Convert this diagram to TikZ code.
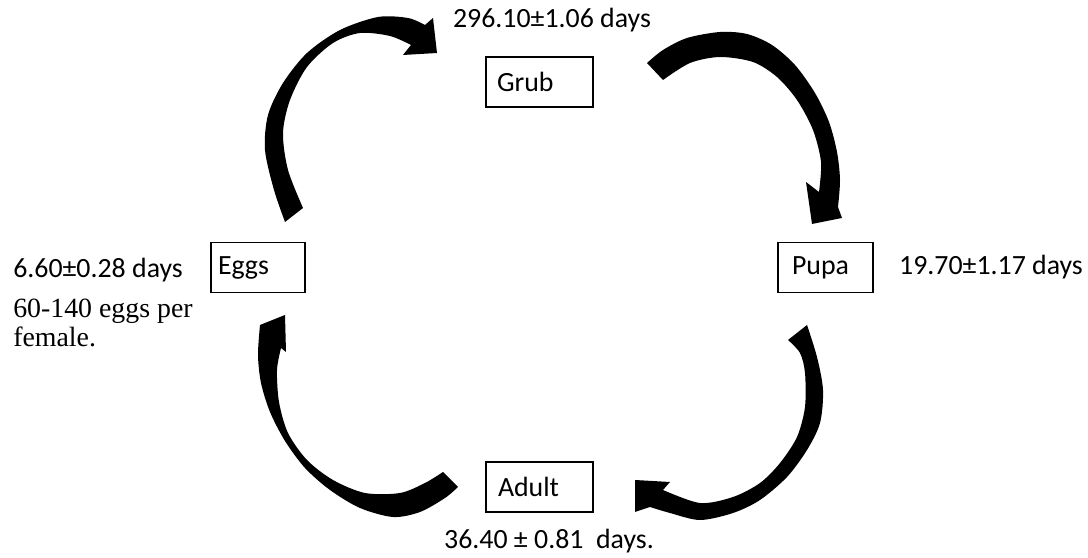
\documentclass[tikz,border=0pt]{standalone}
\usepackage{fontspec}
\setmainfont{Carlito}
\newfontfamily\timesfont{Liberation Serif}
\usepackage{tikz}

\tikzset{
  stage/.style={draw, line width=0.9pt, align=left, minimum height=12.5mm, inner ysep=0pt},
  timing/.style={inner sep=0pt},
  cyclearrow/.style={fill=black}
}

\begin{document}
\begin{tikzpicture}[x=0.25mm, y=-0.25mm, font=\fontsize{19.8}{21.3}\selectfont]
\useasboundingbox (0,0) rectangle (1088,558);

\node[stage, text width=21.25mm, inner xsep=2.75mm] (grub) at (539.5,82) {Grub};
\node[stage, text width=20mm, inner xsep=1.75mm] (eggs) at (258,267.5) {Eggs};
\node[stage, text width=16.75mm, inner xsep=3.5mm] (pupa) at (825.5,267.5) {Pupa};
\node[stage, text width=20.75mm, inner xsep=3mm] (adult) at (539.5,487) {Adult};

\node[timing] (grubdays) at (552,20) {296.10±1.06 days};
\node[timing] (pupadays) at (991,267) {19.70±1.17 days};
\node[timing] (adultdays) at (549,541) {36.40 ± 0.81~ days.};
\node[timing, anchor=base west, align=left] (eggsdays) at (13,347)
  {6.60±0.28 days\\[7.1pt]{\timesfont 60-140 eggs per}\\{\timesfont female.}};

% eggs -> grub
\fill[cyclearrow] plot[smooth] coordinates {(285,222) (274,190) (265,150) (268,115) (283,83) (307,53) (340,30) (378,17) (408,18) (425,25)}
  -- (433,18) -- (437,53) -- (403,55) -- (411,45)
  -- plot[smooth] coordinates {(411,45) (390,36) (360,33) (333,43) (307,67) (290,100) (283,133) (288,170) (303,208)} -- cycle;
% grub -> pupa
\fill[cyclearrow] plot[smooth] coordinates {(647,63) (663,50) (687,38) (720,32) (747,34) (772,45) (795,65) (815,93) (829,122) (837,152) (840,180) (838,207)}
  -- (842,218) -- (812,224) -- (806,182) -- (819,192)
  -- plot[smooth] coordinates {(819,192) (821,162) (813,130) (797,100) (777,77) (753,62) (720,57) (690,63) (663,80)} -- cycle;
% pupa -> adult
\fill[cyclearrow] plot[smooth] coordinates {(807,325) (817,357) (823,390) (820,423) (807,450) (787,477) (760,500) (733,513) (700,520) (670,513) (650,507)}
  -- (635,512) -- (635,480) -- (670,482) -- (663,490)
  -- plot[smooth] coordinates {(663,490) (700,503) (733,497) (760,483) (780,463) (797,437) (805,407) (805,373) (800,353) (788,340)} -- cycle;
% adult -> eggs
\fill[cyclearrow] plot[smooth] coordinates {(458,487) (445,498) (420,512) (393,517) (360,508) (330,490) (305,468) (285,441) (270,412) (261,383) (258,355) (260,325)}
  -- (285,315) -- (286,352) -- (281,348)
  -- plot[smooth] coordinates {(281,348) (277,370) (279,402) (288,433) (307,460) (333,480) (365,493) (400,493) (425,483) (443,472)} -- cycle;
\end{tikzpicture}
\end{document}
